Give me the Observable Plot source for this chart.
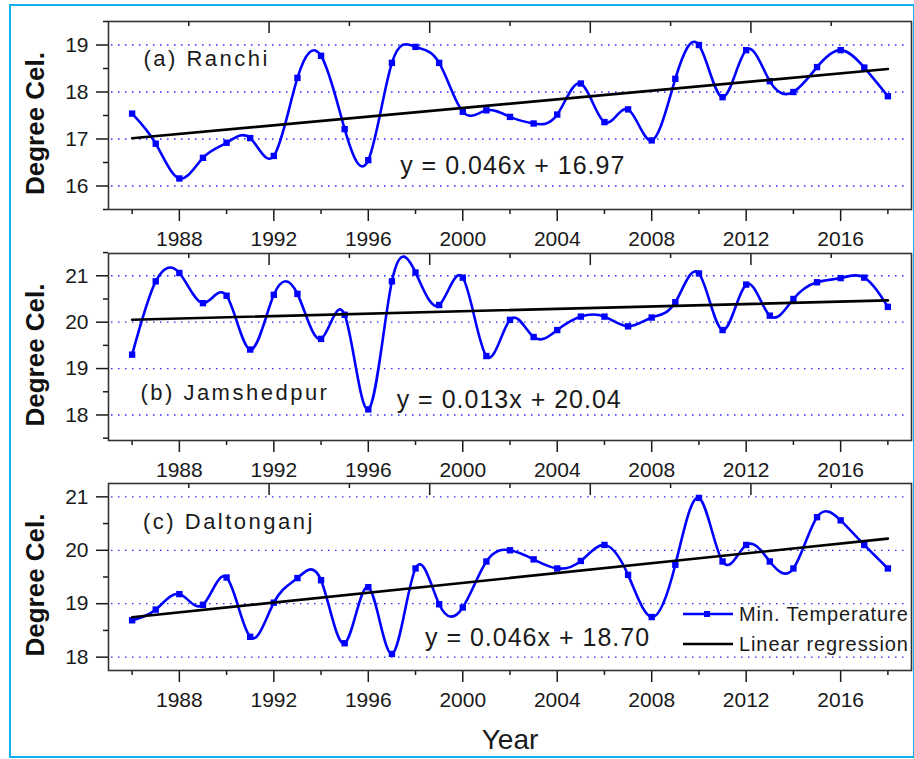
<!DOCTYPE html>
<html>
<head>
<meta charset="utf-8">
<script src="https://cdn.jsdelivr.net/npm/d3@7"></script>
<script src="https://cdn.jsdelivr.net/npm/@observablehq/plot@0.6"></script>
<style>
  html, body { margin: 0; padding: 0; background: #fff; }
  #fig { position: relative; width: 914px; height: 759px; overflow: hidden;
         font-family: "Liberation Sans", Arial, sans-serif; }
  #border { position: absolute; left: 9px; top: 4px; width: 906px; height: 754px;
            border: 2px solid #12b0ea; box-sizing: border-box; }
  #fig svg { position: absolute; left: 0; }
</style>
</head>
<body>
<div id="fig"><div id="border"></div></div>
<script>
// Annual mean minimum temperature (°C), 1986–2018
const years = [1986, 1987, 1988, 1989, 1990, 1991, 1992, 1993, 1994, 1995, 1996,
               1997, 1998, 1999, 2000, 2001, 2002, 2003, 2004, 2005, 2006, 2007,
               2008, 2009, 2010, 2011, 2012, 2013, 2014, 2015, 2016, 2017, 2018];

const ranchi = [17.54, 16.90, 16.16, 16.60, 16.92, 17.02, 16.64, 18.30, 18.77, 17.21, 16.55,
                18.62, 18.96, 18.62, 17.58, 17.61, 17.47, 17.33, 17.52, 18.18, 17.36, 17.63,
                16.97, 18.28, 19.00, 17.89, 18.89, 18.23, 18.00, 18.53, 18.89, 18.52, 17.91];

const jamshedpur = [19.30, 20.88, 21.06, 20.41, 20.57, 19.41, 20.59, 20.61, 19.64, 20.16, 18.12,
                    20.88, 21.07, 20.37, 20.96, 19.27, 20.05, 19.68, 19.83, 20.12, 20.12, 19.91,
                    20.10, 20.43, 21.05, 19.83, 20.81, 20.14, 20.50, 20.86, 20.95, 20.96, 20.33];

const daltonganj = [18.69, 18.89, 19.18, 18.98, 19.49, 18.38, 19.02, 19.48, 19.44, 18.26, 19.31,
                    18.06, 19.66, 18.99, 18.93, 19.79, 20.00, 19.83, 19.66, 19.80, 20.10, 19.54,
                    18.75, 19.73, 20.98, 19.79, 20.10, 19.79, 19.66, 20.62, 20.56, 20.10, 19.66];

const stations = ["(a) Ranchi", "(b) Jamshedpur", "(c) Daltonganj"];
const series = [ranchi, jamshedpur, daltonganj];

// Linear fits, y = slope·x + intercept with x = 1 for 1986
const slopes = [0.046, 0.013, 0.046];
const intercepts = [16.97, 20.04, 18.70];

// Axis ticks
const xMajor = [1988, 1992, 1996, 2000, 2004, 2008, 2012, 2016];
const xMinor = [1986, 1990, 1994, 1998, 2002, 2006, 2010, 2014, 2018];
const yMajor = [[16, 17, 18, 19], [18, 19, 20, 21], [18, 19, 20, 21]];
const yMinor = [[15.5, 16.5, 17.5, 18.5, 19.5], [17.5, 18.5, 19.5, 20.5, 21.5], [18.5, 19.5, 20.5]];

// Layout of the three stacked panels
const xDomain = [1985, 2019];
const yDomains = [[15.5, 19.5], [17.45, 21.48], [17.75, 21.25]];
const panelTops = [0, 232, 462];
const panelHeights = [250, 250, 297];
const marginBottoms = [41, 42, 89];
const labelAt = [[1986.48, 18.70], [1986.35, 18.47], [1986.46, 20.53]];
const equationAt = [[1997.35, 16.43], [1997.2, 18.32], [1998.4, 18.36]];

// The top frame edge carries ten equal divisions
const topTicks = d3.range(1, 10).map(k => xDomain[0] + k * (xDomain[1] - xDomain[0]) / 10);
const topLong = topTicks.filter((d, k) => k % 2 === 1);
const topShort = topTicks.filter((d, k) => k % 2 === 0);

const font = "'Liberation Sans', Arial, sans-serif";
const ink = "#1a1a1a";
const blue = "#0000ff";

function equationText(i) {
  return `y = ${slopes[i].toFixed(3)}x + ${intercepts[i].toFixed(2)}`;
}

function panel(i) {
  const rows = years.map((yr, j) => ({year: yr, t: series[i][j]}));
  const ends = [years[0], years[years.length - 1]];
  const fit = ends.map(yr => ({year: yr, t: slopes[i] * (yr - years[0] + 1) + intercepts[i]}));
  const marginTop = 21;
  const innerH = panelHeights[i] - marginTop - marginBottoms[i];

  const marks = [
    Plot.gridY(yMajor[i], {stroke: "#2a2aff", strokeOpacity: 1, strokeWidth: 1.3,
                           strokeDasharray: "1.5,5.5", insetLeft: 3, insetRight: 6}),
    Plot.axisX(xMajor, {tickSize: 12, tickPadding: 10, label: null, fontSize: 21,
                        strokeWidth: 1.5, tickFormat: d => String(d)}),
    Plot.axisX(xMinor, {tickSize: 5, label: null, strokeWidth: 1.5, tickFormat: () => ""}),
    Plot.axisY(yMajor[i], {tickSize: 12, tickPadding: 8, label: null, fontSize: 21,
                           strokeWidth: 1.5, tickFormat: d => String(d)}),
    Plot.axisY(yMinor[i], {tickSize: 5, label: null, strokeWidth: 1.5, tickFormat: () => ""}),
    Plot.tickX(topLong, {insetBottom: innerH - 12, stroke: ink, strokeWidth: 1.5}),
    Plot.tickX(topShort, {insetBottom: innerH - 5, stroke: ink, strokeWidth: 1.5}),
    Plot.frame({stroke: "#333", strokeWidth: 1.6}),
    Plot.line(rows, {x: "year", y: "t", stroke: blue, strokeWidth: 2.6, curve: "natural"}),
    Plot.dot(rows, {x: "year", y: "t", symbol: "square", r: 3.6, fill: blue, stroke: null}),
    Plot.line(fit, {x: "year", y: "t", stroke: "#000", strokeWidth: 2.6}),
    Plot.text([stations[i]], {x: () => labelAt[i][0], y: () => labelAt[i][1], text: d => d,
                              textAnchor: "start", fontSize: 22, fill: ink}),
    Plot.text([equationText(i)], {x: () => equationAt[i][0], y: () => equationAt[i][1], text: d => d,
                                  textAnchor: "start", fontSize: 25, fill: ink}),
    Plot.text(["Degree Cel."], {frameAnchor: "left", rotate: -90, dx: -73, dy: 8, text: d => d,
                                textAnchor: "middle", lineAnchor: "middle",
                                fontSize: 26, fontWeight: "bold", fill: "#111"})
  ];
  if (i === 2) {
    marks.push(Plot.text(["Year"], {frameAnchor: "bottom", dy: 78, text: d => d, fontSize: 28, fill: ink}));
  }

  const svg = Plot.plot({
    width: 914,
    height: panelHeights[i],
    marginLeft: 108,
    marginRight: 3,
    marginTop,
    marginBottom: marginBottoms[i],
    style: {background: "transparent", fontFamily: font, fontSize: "21px", color: ink, overflow: "visible"},
    x: {domain: xDomain},
    y: {domain: yDomains[i]},
    marks
  });
  svg.style.top = panelTops[i] + "px";
  d3.select(svg).selectAll("text")
    .filter(function () { return this.textContent === stations[i]; })
    .style("letter-spacing", "2.5px");
  d3.select(svg).selectAll("text")
    .filter(function () { return this.textContent === equationText(i); })
    .style("letter-spacing", "1px");
  return svg;
}

const fig = document.getElementById("fig");
series.forEach((s, i) => fig.append(panel(i)));

// Legend in the lower right of the last panel
const legend = d3.create("svg").attr("width", 914).attr("height", 759).style("top", "0px")
  .style("pointer-events", "none");
const entries = [
  {label: "Min. Temperature", color: blue, marker: true, y: 614},
  {label: "Linear regression", color: "#000", marker: false, y: 644}
];
const g = legend.selectAll("g").data(entries).join("g");
g.append("line").attr("x1", 683).attr("x2", 733).attr("y1", d => d.y).attr("y2", d => d.y)
  .attr("stroke", d => d.color).attr("stroke-width", 2.6);
g.filter(d => d.marker).append("rect").attr("x", 704).attr("y", d => d.y - 3).attr("width", 6).attr("height", 6)
  .attr("fill", d => d.color);
g.append("text").attr("x", 739).attr("y", d => d.y).attr("dy", "0.35em")
  .attr("font-family", font).attr("font-size", 20).attr("fill", ink)
  .style("letter-spacing", "0.9px").text(d => d.label);
fig.append(legend.node());
</script>
</body>
</html>
